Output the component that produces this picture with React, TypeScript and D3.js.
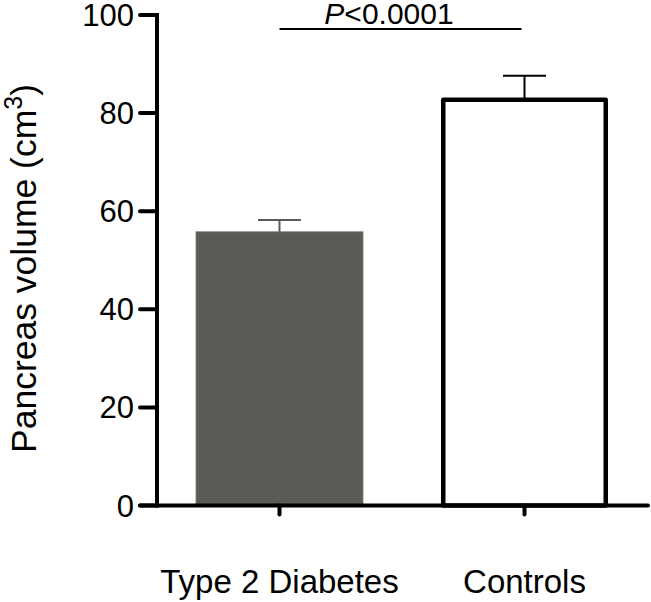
import React from "react";
import * as d3 from "d3";

const categories = ["Type 2 Diabetes", "Controls"];
const means = [55.8, 82.7];
const errors = [2.4, 4.9];
const yTicks = [0, 20, 40, 60, 80, 100];
const fills = ["#5a5b56", "#ffffff"];
const sigText = "<0.0001";

const W = 651;
const H = 602;
const FONT = "'Liberation Sans', Arial, Helvetica, sans-serif";

export default function App() {
  const y = d3.scaleLinear().domain([0, 100]).range([505.5, 15]);
  const x = d3
    .scaleBand<string>()
    .domain(categories)
    .range([196, 608])
    .paddingInner(0.3184)
    .paddingOuter(0);
  const bw = x.bandwidth();
  const axisX = 157;
  const axisY = y(0);
  const c0 = (x(categories[0]) as number) + bw / 2;
  const c1 = (x(categories[1]) as number) + bw / 2;

  return (
    <svg
      width={W}
      height={H}
      style={{ position: "absolute", left: 0, top: 0, background: "#fff" }}
      fontFamily={FONT}
    >
      {/* bars */}
      {categories.map((c, i) => {
        const bx = x(c) as number;
        const top = y(means[i]);
        const outlined = fills[i] === "#ffffff";
        return outlined ? (
          <rect
            key={c}
            x={bx + 2.25}
            y={top}
            width={bw - 4.5}
            height={axisY - top}
            fill="#fff"
            stroke="#000"
            strokeWidth={4.5}
            strokeLinejoin="round"
          />
        ) : (
          <rect
            key={c}
            x={bx}
            y={top}
            width={bw}
            height={axisY - top}
            fill={fills[i]}
            stroke="#7a7b76"
            strokeWidth={0.8}
          />
        );
      })}
      {/* error bars */}
      {categories.map((c, i) => {
        const cx = (x(c) as number) + bw / 2;
        const top = y(means[i]);
        const et = y(means[i] + errors[i]);
        const col = i === 0 ? "#5a5b56" : "#000";
        return (
          <g key={"e" + c} stroke={col} strokeWidth={2}>
            <line x1={cx} x2={cx} y1={top} y2={et} />
            <line x1={cx - 21.5} x2={cx + 21.5} y1={et} y2={et} />
          </g>
        );
      })}
      {/* y axis */}
      <line x1={axisX} x2={axisX} y1={y(100) - 2} y2={axisY + 2} stroke="#000" strokeWidth={4} />
      {yTicks.map((t) => (
        <g key={t}>
          <line x1={140} x2={axisX} y1={y(t)} y2={y(t)} stroke="#000" strokeWidth={4} strokeLinecap="round" />
          <text x={134} y={y(t) + 11} textAnchor="end" fontSize={31} fill="#000">
            {t}
          </text>
        </g>
      ))}
      {/* x axis */}
      <line x1={140} x2={648} y1={axisY} y2={axisY} stroke="#000" strokeWidth={4} strokeLinecap="round" />
      {categories.map((c) => {
        const cx = (x(c) as number) + bw / 2;
        return (
          <g key={"t" + c}>
            <line x1={cx} x2={cx} y1={axisY} y2={axisY + 9} stroke="#000" strokeWidth={4} strokeLinecap="round" />
            <text x={cx} y={593} textAnchor="middle" fontSize={33} fill="#000">
              {c}
            </text>
          </g>
        );
      })}
      {/* y label */}
      <text
        transform={`translate(36, 268.5) rotate(-90)`}
        textAnchor="middle"
        fontSize={35.5}
        fill="#000"
      >
        Pancreas volume (cm
        <tspan fontSize={25} dy={-14}>3</tspan>
        <tspan dy={14}>)</tspan>
      </text>
      {/* significance */}
      <line x1={c0} x2={c1 - 3} y1={29} y2={29} stroke="#000" strokeWidth={2} />
      <text x={(c0 + c1) / 2 - 13} y={24} textAnchor="middle" fontSize={30} fill="#000">
        <tspan fontStyle="italic">P</tspan>
        {sigText}
      </text>
    </svg>
  );
}
